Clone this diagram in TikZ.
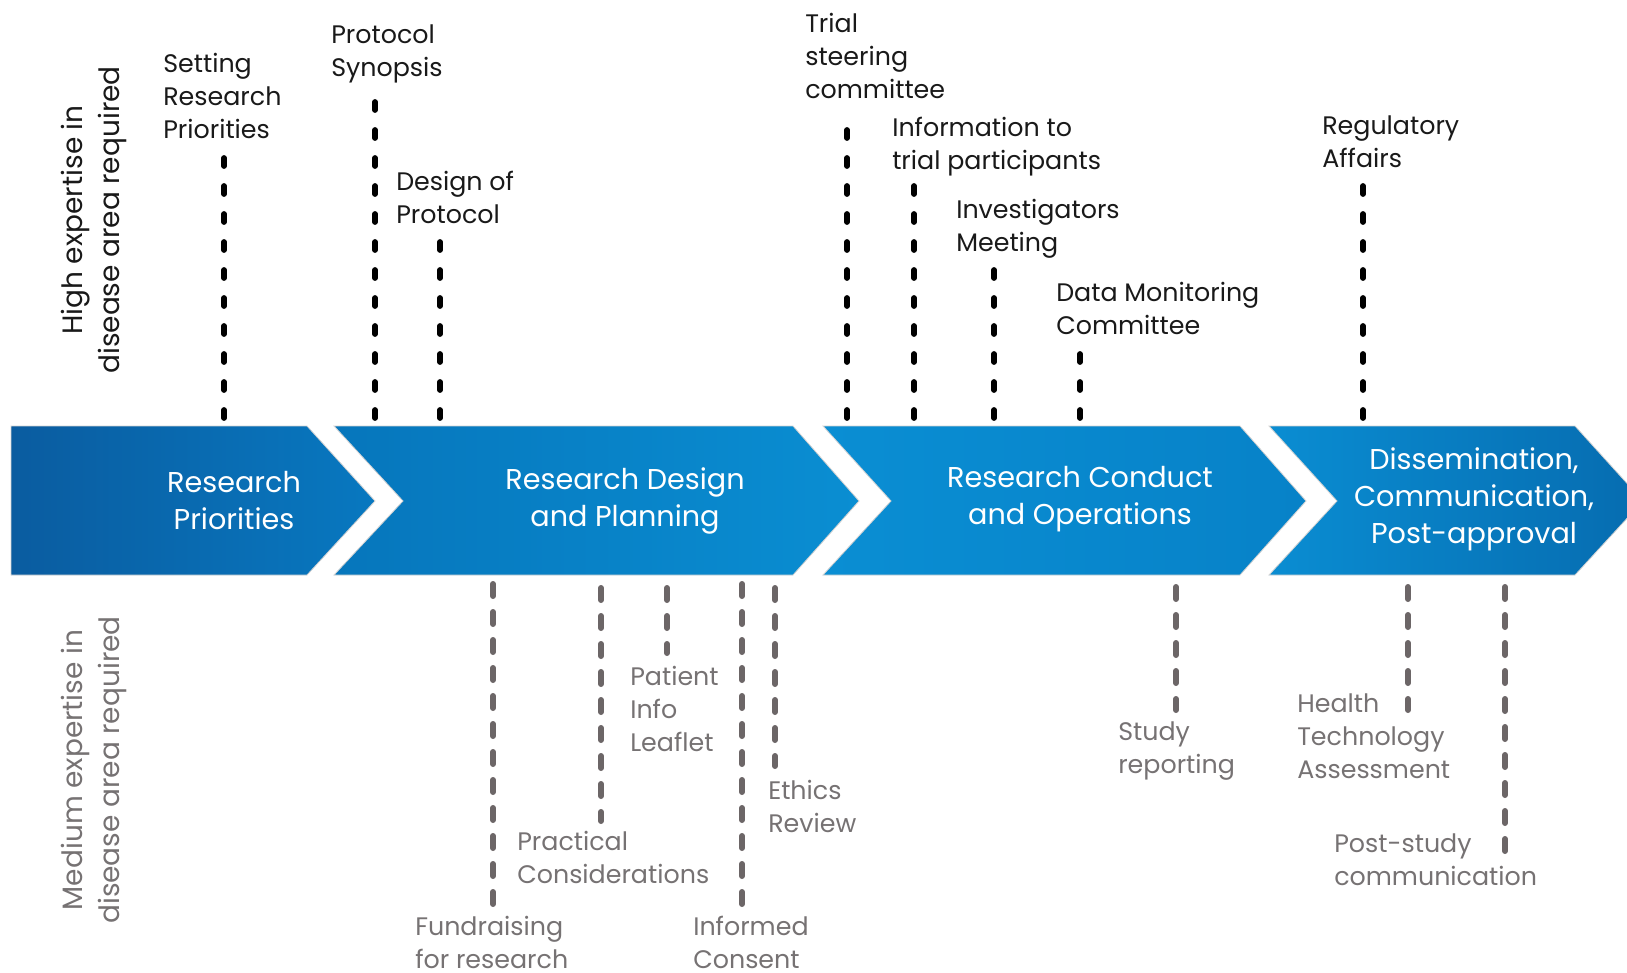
\documentclass[tikz,border=0pt]{standalone}
\usepackage{fontspec}
\setmainfont{Poppins}
\definecolor{topcol}{RGB}{25,25,25}
\definecolor{botcol}{RGB}{118,114,115}
\definecolor{botdash}{RGB}{108,102,103}
\definecolor{cAl}{RGB}{10,92,160}
\definecolor{cAr}{RGB}{8,120,192}
\definecolor{cBl}{RGB}{6,118,188}
\definecolor{cBr}{RGB}{10,142,210}
\definecolor{cCl}{RGB}{10,142,211}
\definecolor{cCr}{RGB}{7,130,200}
\definecolor{cDl}{RGB}{10,141,210}
\definecolor{cDr}{RGB}{6,108,176}
\begin{document}
\begin{tikzpicture}[x=0.75pt,y=-0.75pt,
  toplab/.style={anchor=west,inner sep=0pt,align=left,text=topcol,font=\fontsize{19}{24.75}\selectfont},
  botlab/.style={anchor=west,inner sep=0pt,align=left,text=botcol,font=\fontsize{19}{24.75}\selectfont},
  chevlab/.style={inner sep=0pt,align=center,text=white,font=\fontsize{21.5}{27.75}\selectfont},
  sidelab/.style={inner sep=0pt,align=center,rotate=90,font=\fontsize{21}{27.75}\selectfont},
  toplink/.style={draw=black,line width=4.3pt,line cap=round,dash pattern=on 6pt off 15pt},
  botlink/.style={draw=botdash,line width=4.5pt,line cap=round,dash pattern=on 9pt off 12pt},
  chev/.style={draw=gray!35,line width=0.6pt}]
\useasboundingbox (0,0) rectangle (1627,973);

% chevrons
\path[chev,left color=cAl,right color=cAr] (11,426) -- (307,426) -- (375,501) -- (307,575) -- (11,575) -- cycle;
\path[chev,left color=cBl,right color=cBr] (334,426) -- (793,426) -- (859,501) -- (793,575) -- (334,575) -- (403,501) -- cycle;
\path[chev,left color=cCl,right color=cCr] (823,426) -- (1240,426) -- (1306,501) -- (1240,575) -- (823,575) -- (891,501) -- cycle;
\path[chev,left color=cDl,right color=cDr] (1269,426) -- (1575,426) -- (1643,501) -- (1575,575) -- (1269,575) -- (1337,501) -- cycle;

\node[chevlab] (cA) at (234,501) {Research\\Priorities};
\node[chevlab] (cB) at (625,501) {Research Design\\and Planning};
\node[chevlab] (cC) at (1080,499) {Research Conduct\\and Operations};
\node[chevlab] (cD) at (1474,499) {Dissemination,\\Communication,\\Post-approval};

% side labels
\node[sidelab,text=topcol] (vH) at (94,220) {High expertise in\\disease area required};
\node[sidelab,text=botcol] (vM) at (94,770) {Medium expertise in\\disease area required};

% top labels
\node[toplab] (tA) at (163,96) {Setting\\Research\\Priorities};
\node[toplab] (tB) at (331,54) {Protocol\\Synopsis};
\node[toplab] (tC) at (396,197) {Design of\\Protocol};
\node[toplab] (tD) at (805,56) {Trial\\steering\\committee};
\node[toplab] (tE) at (892,147) {Information to\\trial participants};
\node[toplab] (tF) at (956,229) {Investigators\\Meeting};
\node[toplab] (tG) at (1056,308) {Data Monitoring\\Committee};
\node[toplab] (tH) at (1322,142) {Regulatory\\Affairs};

% top connectors
\coordinate (tA1) at (224,418); \coordinate (tA2) at (224,154);
\coordinate (tB1) at (375,418); \coordinate (tB2) at (375,95);
\coordinate (tC1) at (440,418); \coordinate (tC2) at (440,237);
\coordinate (tD1) at (847,418); \coordinate (tD2) at (847,122);
\coordinate (tE1) at (914,418); \coordinate (tE2) at (914,183);
\coordinate (tF1) at (994,418); \coordinate (tF2) at (994,268);
\coordinate (tG1) at (1080,418); \coordinate (tG2) at (1080,349);
\coordinate (tH1) at (1363,418); \coordinate (tH2) at (1363,182);
\foreach \n in {A,B,C,D,E,F,G,H} {\draw[toplink] (t\n1) -- (t\n2);}

% bottom labels
\node[botlab] (bA) at (415,942) {Fundraising\\for research};
\node[botlab] (bB) at (517,857) {Practical\\Considerations};
\node[botlab] (bC) at (630,709) {Patient\\Info\\Leaflet};
\node[botlab] (bD) at (693,942) {Informed\\Consent};
\node[botlab] (bE) at (768,806) {Ethics\\Review};
\node[botlab] (bF) at (1118,751) {Study\\reporting};
\node[botlab] (bG) at (1297,736) {Health\\Technology\\Assessment};
\node[botlab] (bH) at (1334,860) {Post-study\\communication};

% bottom connectors
\coordinate (bA1) at (493,584); \coordinate (bA2) at (493,905);
\coordinate (bB1) at (601,588); \coordinate (bB2) at (601,821);
\coordinate (bC1) at (667,588); \coordinate (bC2) at (667,653);
\coordinate (bD1) at (742,584); \coordinate (bD2) at (742,906);
\coordinate (bE1) at (775,588); \coordinate (bE2) at (775,766);
\coordinate (bF1) at (1176,587); \coordinate (bF2) at (1176,710);
\coordinate (bG1) at (1408,587); \coordinate (bG2) at (1408,710);
\coordinate (bH1) at (1505,587); \coordinate (bH2) at (1505,851);
\foreach \n in {A,B,C,D,E,F,G,H} {\draw[botlink] (b\n1) -- (b\n2);}
\end{tikzpicture}
\end{document}
